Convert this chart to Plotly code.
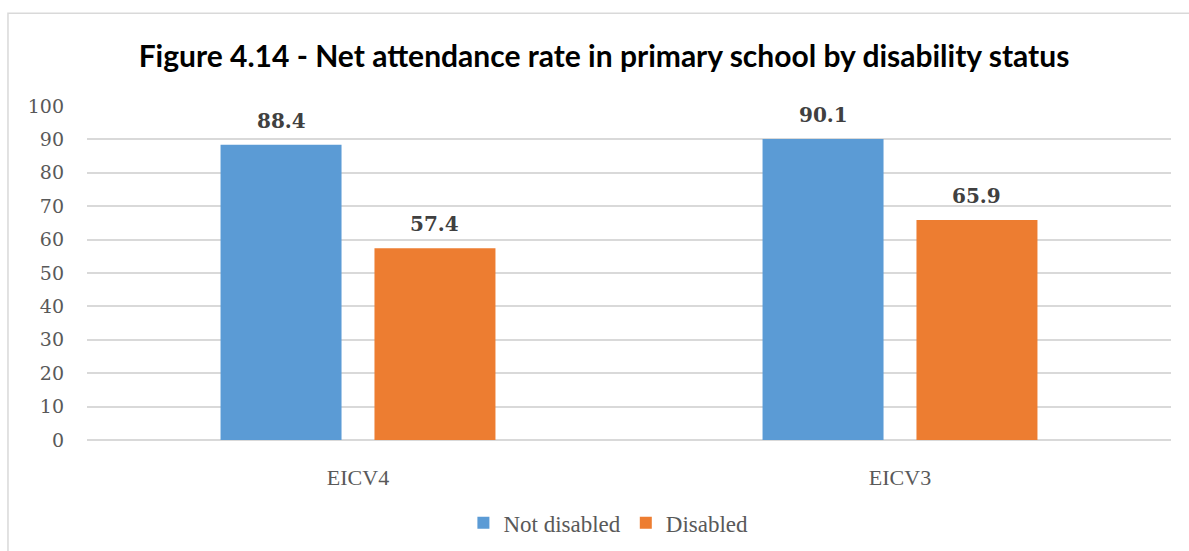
import plotly.graph_objects as go

categories = ["EICV4", "EICV3"]
not_disabled = [88.4, 90.1]
disabled = [57.4, 65.9]
y_ticks = [0, 10, 20, 30, 40, 50, 60, 70, 80, 90, 100]

serif = "Liberation Serif, Cambria, serif"
label_font = "DejaVu Serif, Cambria, serif"
W, H = 1189, 551
ML, MR, MT, MB = 87, 18, 106, 111
BARGAP, GROUPGAP = 0.432, 0.214

series = [("Not disabled", not_disabled, "#5B9BD5"), ("Disabled", disabled, "#ED7D31")]

fig = go.Figure()
for name, vals, color in series:
    fig.add_trace(go.Bar(x=categories, y=vals, name=name, marker_color=color, marker_line_width=0))

# data labels placed above bars
cat_w = (W - ML - MR) / len(categories)
slot = cat_w * (1 - BARGAP) / len(series)
annotations = []
for i, (name, vals, color) in enumerate(series):
    shift = (i - (len(series) - 1) / 2) * slot
    for c, v in zip(categories, vals):
        annotations.append(dict(x=c, y=v, xref="x", yref="y", text=f"<b>{v:.1f}</b>",
                                showarrow=False, xshift=shift, yshift=24, yanchor="middle",
                                font=dict(family=label_font, size=20, color="#404040")))

fig.update_layout(
    width=W, height=H,
    margin=dict(l=ML, r=MR, t=MT, b=MB, autoexpand=False),
    paper_bgcolor="white", plot_bgcolor="white",
    barmode="group", bargap=BARGAP, bargroupgap=GROUPGAP,
    title=dict(text="<b>Figure 4.14 - Net attendance rate in primary school by disability status</b>",
               x=0.508, xanchor="center", y=0.897, yanchor="middle",
               font=dict(family="Lato, Carlito, Calibri, sans-serif", size=30, color="#000000")),
    xaxis=dict(showgrid=False, showline=False, zeroline=False, ticks="", automargin=False,
               tickfont=dict(family=serif, size=22, color="#595959"), ticklabelstandoff=22),
    yaxis=dict(range=[0, 100], tickvals=y_ticks, showgrid=True, gridcolor="#D9D9D9", gridwidth=1.5,
               zeroline=True, zerolinecolor="#D9D9D9", zerolinewidth=1.5, showline=False, automargin=False,
               tickfont=dict(family=label_font, size=19, color="#595959"), ticklabelstandoff=22),
    legend=dict(orientation="h", x=0.481, xanchor="center", yref="container", y=0.051, yanchor="middle",
                font=dict(family=serif, size=23, color="#595959"), itemwidth=30, traceorder="normal"),
    showlegend=True,
    annotations=annotations,
    shapes=[dict(type="rect", xref="paper", yref="paper", x0=-0.0729, x1=1.2, y0=-0.6, y1=1.278,
                 line=dict(color="#D9D9D9", width=1.5), fillcolor="rgba(0,0,0,0)", layer="below")],
)
fig.write_html("out.html")
